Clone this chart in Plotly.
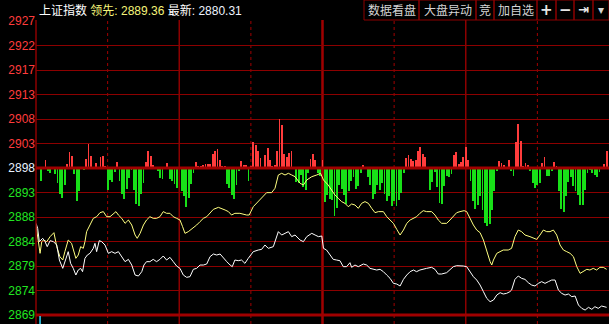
import plotly.graph_objects as go

# ---------------- data ----------------
PREV_CLOSE = 2898.2          # reference (yesterday close) level
GRID_STEP = 4.8              # price step between horizontal grid lines
LEAD_VALUE = "2889.36"
LAST_VALUE = "2880.31"

tick_labels = ["2869", "2874", "2879", "2884", "2888", "2893", "2898",
               "2903", "2908", "2913", "2917", "2922", "2927"]

# white line (index), x = minutes from open
white_min = [0, 0.7, 1.4, 2.8, 3.8, 4.7, 5.9, 7.3, 8.7, 9.8,
             11.2, 12.1, 13.5, 14.5, 15.6, 16.7, 17.7, 18.7, 19.5, 20.5,
             21.5, 22.6, 24.0, 24.7, 25.4, 26.5, 27.5, 28.9, 30.3, 31.7,
             33.1, 34.5, 35.9, 37.3, 38.7, 40.1, 41.5, 42.9, 44.3, 45.2,
             46.3, 47.7, 49.1, 50.5, 51.9, 53.3, 54.7, 56.1, 57.5, 58.9,
             60.3, 61.7, 63.1, 64.5, 65.9, 67.3, 68.7, 70.1, 71.5, 72.9,
             74.3, 75.7, 77.1, 78.5, 79.9, 81.3, 82.2, 83.3, 84.7, 86.1,
             87.5, 88.9, 91.0, 93.1, 94.5, 95.9, 97.3, 99.4, 101.5, 102.9,
             104.3, 105.7, 107.1, 108.5,
             110.6, 112.0, 113.4, 115.5, 116.9, 118.3, 119.7, 120.4, 121.7, 123.1,
             124.5, 125.9, 127.3, 128.7, 130.1, 131.5, 132.2, 133.6, 135.0, 137.1,
             138.5, 139.9, 141.3, 142.7, 144.1, 145.5, 146.9, 148.3, 149.7, 151.1,
             152.5, 153.9, 155.3, 156.7, 158.1, 159.4, 160.8, 162.2, 163.6, 165.7,
             167.1, 168.5, 169.9, 172.0, 173.4, 174.8, 176.2, 177.6, 179.0, 180.4,
             181.8, 183.2, 184.6, 186.0, 187.4, 188.8, 190.2, 191.6, 193.0, 194.4,
             195.7, 197.1, 198.5, 199.2, 200.6, 202.0, 203.4, 204.8, 206.2, 207.6,
             209.0, 210.4, 211.8, 213.2, 214.6, 216.0, 217.4, 218.8, 220.2, 221.6,
             223.0, 224.4, 225.8, 227.2, 228.6, 230.0, 231.4, 232.8, 234.1, 235.5,
             236.9, 238.3, 239.0]
white_val = [2887.36, 2886.38, 2883.77, 2884.42, 2883.77, 2882.79, 2883.96, 2883.77, 2883.11, 2880.17,
             2878.54, 2879.85, 2881.81, 2879.52, 2878.54, 2877.23, 2878.21, 2878.54, 2877.89, 2880.50,
             2881.15, 2881.48, 2882.46, 2883.44, 2881.81, 2883.96, 2883.77, 2883.11, 2881.48, 2881.81,
             2881.48, 2881.81, 2880.83, 2879.85, 2880.30, 2879.19, 2877.23, 2877.04, 2877.89, 2879.19,
             2879.85, 2879.85, 2880.30, 2879.85, 2880.30, 2880.96, 2880.17, 2880.70, 2879.85, 2879.00,
             2878.54, 2877.23, 2876.78, 2876.91, 2878.35, 2878.54, 2879.19, 2879.19, 2879.39, 2880.83,
             2881.35, 2881.15, 2881.35, 2880.70, 2879.85, 2879.19, 2878.87, 2880.17, 2880.04, 2880.17,
             2879.52, 2880.50, 2881.81, 2882.13, 2882.26, 2883.11, 2882.46, 2882.79, 2885.73, 2885.07,
             2885.40, 2885.73, 2884.75, 2885.07,
             2884.09, 2883.77, 2884.75, 2885.40, 2885.07, 2884.75, 2884.88, 2882.46, 2882.13, 2881.15,
             2880.30, 2880.17, 2880.04, 2878.87, 2878.87, 2879.65, 2878.74, 2879.19, 2878.87, 2879.39,
             2879.19, 2878.54, 2878.35, 2878.21, 2878.35, 2877.89, 2877.23, 2876.58, 2875.60, 2875.47,
             2875.08, 2876.38, 2877.23, 2877.89, 2878.21, 2877.89, 2878.21, 2878.41, 2878.54, 2878.74,
             2878.35, 2877.43, 2877.43, 2877.69, 2878.21, 2878.87, 2879.06, 2879.06, 2879.00, 2878.87,
             2877.89, 2876.91, 2876.25, 2875.27, 2873.97, 2872.66, 2872.01, 2872.33, 2873.31, 2873.77,
             2873.51, 2873.64, 2873.97, 2874.29, 2876.38, 2877.04, 2876.58, 2876.38, 2875.73, 2875.27,
             2875.08, 2875.60, 2875.93, 2875.60, 2875.93, 2876.25, 2876.25, 2874.29, 2873.64, 2873.31,
             2873.51, 2872.99, 2873.12, 2871.36, 2870.70, 2870.37, 2870.90, 2870.51, 2871.03, 2870.70,
             2871.16, 2871.03, 2870.90]

# yellow line (leading index)
yellow_min = [0, 1.7, 2.4, 3.1, 4.5, 5.9, 7.5, 8.7, 10.0, 11.2,
              12.1, 13.5, 14.9, 15.9, 16.7, 17.7, 18.7, 19.8, 20.5, 21.2,
              22.6, 24.0, 25.4, 26.8, 28.2, 29.6, 31.0, 32.4, 33.5, 34.5,
              35.9, 37.3, 38.7, 40.1, 41.5, 42.4, 43.6, 45.0, 46.3, 47.7,
              49.1, 50.5, 51.9, 53.3, 54.7, 56.1, 57.5, 58.9, 60.3, 61.4,
              62.4, 63.8, 65.2, 67.3, 68.7, 70.1, 71.5, 72.9, 74.3, 76.4,
              77.8, 79.2, 80.6, 81.9, 83.3, 85.4, 88.2, 89.3, 91.0, 93.1,
              95.2, 96.6, 98.7, 100.1, 101.5, 102.9, 104.3, 105.7, 107.1, 108.5,
              110.6, 112.0, 113.4, 115.5, 117.6, 119.2, 120.4, 122.4, 123.8, 125.2,
              126.6, 128.0, 129.4, 130.8, 132.2, 133.6, 135.0, 136.4, 137.8, 139.2,
              140.6, 142.0, 143.4, 145.5, 146.9, 148.3, 149.7, 151.1, 152.5, 153.9,
              155.3, 156.7, 158.1, 159.4, 160.8, 162.2, 163.6, 165.7, 167.1, 168.5,
              169.9, 172.0, 173.4, 174.8, 176.2, 177.6, 179.3, 180.4, 181.8, 183.2,
              184.6, 186.0, 187.4, 188.8, 190.2, 190.9, 191.6, 193.0, 194.4, 195.7,
              197.8, 199.2, 200.6, 202.0, 203.4, 204.8, 206.9, 208.3, 209.7, 211.1,
              212.5, 213.9, 215.3, 216.7, 218.1, 219.5, 220.9, 222.3, 223.7, 225.1,
              226.5, 227.9, 229.3, 230.7, 232.0, 233.4, 234.8, 236.2, 237.6, 239.0]
yellow_val = [2887.03, 2881.48, 2883.77, 2884.09, 2883.77, 2884.75, 2885.53, 2882.79, 2880.83, 2880.17,
              2881.81, 2884.09, 2883.44, 2881.81, 2880.50, 2881.15, 2882.79, 2882.46, 2883.77, 2885.73,
              2887.03, 2888.34, 2888.66, 2889.45, 2889.65, 2888.66, 2888.66, 2889.32, 2889.65, 2888.99,
              2888.34, 2887.36, 2888.01, 2887.03, 2885.07, 2884.42, 2885.40, 2887.03, 2888.01, 2888.66,
              2888.34, 2888.34, 2888.66, 2889.65, 2889.32, 2889.32, 2888.66, 2888.34, 2888.01, 2886.71,
              2885.40, 2885.73, 2886.18, 2887.03, 2887.69, 2888.34, 2888.66, 2889.45, 2890.10, 2890.49,
              2890.30, 2889.97, 2889.65, 2888.99, 2889.32, 2889.32, 2888.99, 2888.99, 2890.62, 2891.61,
              2892.58, 2893.37, 2893.37, 2894.22, 2896.83, 2897.16, 2896.83, 2897.16, 2896.83, 2896.50,
              2895.20, 2894.87, 2895.85, 2896.50, 2896.83, 2897.16, 2895.85, 2894.87, 2893.89, 2892.91,
              2892.26, 2891.61, 2891.28, 2890.62, 2891.15, 2890.95, 2890.30, 2891.28, 2891.61, 2891.28,
              2890.30, 2889.45, 2889.65, 2889.65, 2888.66, 2888.01, 2887.36, 2886.18, 2885.07, 2886.05,
              2887.36, 2888.01, 2888.34, 2888.66, 2889.32, 2889.84, 2889.65, 2889.65, 2888.99, 2888.01,
              2887.36, 2887.36, 2888.01, 2888.66, 2889.45, 2889.65, 2889.84, 2889.65, 2888.34, 2887.03,
              2886.05, 2885.53, 2884.09, 2881.81, 2879.85, 2879.19, 2880.17, 2881.48, 2881.81, 2882.13,
              2882.13, 2882.46, 2884.75, 2886.05, 2885.73, 2885.07, 2884.75, 2884.42, 2884.22, 2885.07,
              2886.05, 2885.73, 2885.73, 2886.05, 2885.07, 2883.11, 2882.13, 2881.81, 2881.48, 2880.83,
              2878.87, 2877.56, 2877.89, 2878.35, 2878.21, 2878.54, 2878.21, 2878.74, 2878.74, 2878.35]

# red/green strength bars, one per minute (0..239); positive = red, negative = green
strength = [0, 0, -13, 0, 8, -3, -5, 0, -6, -15,
            -26, -30, -17, 4, 16, 12, -6, -33, -23, 0,
            -2, 9, 24, 12, 0, 5, 0, 11, 12, 2,
            -22, -12, -14, -4, 6, -13, -26, -31, -21, -10,
            -2, -22, -36, -38, -26, -15, 6, 17, 12, 3,
            -1, -3, -10, -11, 0, 5, -11, -13, -16, -20,
            0, -23, -28, -39, -30, -16, -5, 6, 2, 2,
            3, 4, 4, 4, 14, 17, 19, 8, 2, 2,
            -16, -20, -27, -31, -17, -3, 7, 3, 3, -13,
            2, 26, 23, 17, 10, -1, 13, 20, 8, 2,
            3, 17, 49, 43, 14, 11, 15, 17, -1, -14,
            -15, -7, -19, -22, -5, 9, 14, 8, -5, -8,
            8, -34, -27, -31, -32, -48, -40, -17, -21, -27,
            -36, -23, -13, -9, -21, -18, -5, 3, -1, -9,
            -17, -31, -26, -17, -22, -15, -26, -33, -28, -38,
            -33, -38, -32, -25, -5, 10, 13, 9, 7, 8,
            17, 21, 14, 11, -1, -22, -14, -4, -19, -35,
            -36, -18, -8, -9, -6, 13, 16, 4, 6, 11,
            21, 8, -13, -33, -41, -37, -28, -42, -55, -58,
            -56, -42, -23, -3, 7, 5, 3, -1, 8, -3,
            -8, 26, 44, 27, 2, 5, 3, -3, -15, -20,
            -17, -15, 5, 11, -8, -8, -3, 6, 2, -23,
            -41, -44, -28, -14, -9, -18, -23, -27, -37, -37,
            -22, -5, -2, -5, -7, -9, -4, -1, 4, 17]
minutes = list(range(len(strength)))

vline_solid = [60, 180]
vline_main = [120]
vline_dotted = [30, 90, 150, 210]

buttons = ["数据看盘", "大盘异动", "竞", "加自选", "+", "−", "⇥", "▾"]
button_edges = [364, 419, 476, 494, 537, 556, 574, 593, 609]

# ---------------- layout geometry ----------------
W, H = 609, 324
ML, MT = 36, 20
PW, PH = W - ML, H - MT
PX_PER_PT = 24.5 / GRID_STEP
BASE_PX = 148  # baseline distance (px) below top of plot area

price_range = [PREV_CLOSE - (PH - BASE_PX) / PX_PER_PT, PREV_CLOSE + BASE_PX / PX_PER_PT]
strength_range = [-(PH - BASE_PX), BASE_PX]
tick_vals = [PREV_CLOSE + GRID_STEP * k for k in range(-6, 7)]

RED_TXT = "#ff3c3c"
GREEN_TXT = "#22e622"
GRID = "#8c0000"


def px_x(p):
    return (p - ML) / PW


def px_y(p):
    return (H - p) / PH


tick_text = []
for v, lab in zip(tick_vals, tick_labels):
    if abs(v - PREV_CLOSE) < 1e-6:
        tick_text.append(f'<span style="color:#e8f2ff">{lab}</span>')
    elif v > PREV_CLOSE:
        tick_text.append(f'<span style="color:{RED_TXT}">{lab}</span>')
    else:
        tick_text.append(lab)

bar_colors = ["#ff3c3c" if s > 0 else "#18e018" for s in strength]

fig = go.Figure()
fig.add_trace(go.Bar(x=minutes, y=strength, marker=dict(color=bar_colors, line=dict(width=0)),
                     width=0.36, yaxis="y", hoverinfo="skip"))
fig.add_trace(go.Scatter(x=yellow_min, y=yellow_val, mode="lines", yaxis="y2",
                         line=dict(color="#ffff80", width=1), hoverinfo="skip"))
fig.add_trace(go.Scatter(x=white_min, y=white_val, mode="lines", yaxis="y2",
                         line=dict(color="#ffffff", width=1), hoverinfo="skip"))

shapes = []
# left edge
shapes.append(dict(type="line", xref="paper", yref="paper", x0=0, x1=0, y0=0, y1=1,
                   line=dict(color=GRID, width=1.5), layer="above"))
for m in vline_solid:
    shapes.append(dict(type="line", xref="x", yref="paper", x0=m, x1=m, y0=0, y1=1,
                       line=dict(color=GRID, width=1.5), layer="below"))
for m in vline_main:
    shapes.append(dict(type="line", xref="x", yref="paper", x0=m, x1=m, y0=0, y1=1,
                       line=dict(color="#a00000", width=2.5), layer="below"))
for m in vline_dotted:
    shapes.append(dict(type="line", xref="x", yref="paper", x0=m, x1=m, y0=0, y1=1,
                       line=dict(color="#a00000", width=1, dash="dot"), layer="below"))
# thick baseline and bottom line
shapes.append(dict(type="line", xref="paper", yref="y2", x0=0, x1=1, y0=PREV_CLOSE, y1=PREV_CLOSE,
                   line=dict(color="#a00000", width=3), layer="above"))
shapes.append(dict(type="line", xref="paper", yref="y2", x0=0, x1=1, y0=tick_vals[0], y1=tick_vals[0],
                   line=dict(color="#a00000", width=3), layer="above"))
# small cyan volume tick bottom-left
shapes.append(dict(type="line", xref="x", yref="paper", x0=1.7, x1=1.7, y0=0, y1=px_y(316),
                   line=dict(color="#30d8ff", width=1.5), layer="above"))
# header button boxes
for a, b in zip(button_edges[:-1], button_edges[1:]):
    shapes.append(dict(type="rect", xref="paper", yref="paper", x0=px_x(a), x1=px_x(b),
                       y0=px_y(20), y1=px_y(0), line=dict(color=GRID, width=1), fillcolor="rgba(0,0,0,0)"))

annotations = []
annotations.append(dict(
    xref="paper", yref="paper", x=px_x(37), y=px_y(10.5), xanchor="left", yanchor="middle",
    showarrow=False,
    text=(f'上证指数 <span style="color:#f4f47a">领先: {LEAD_VALUE}</span> '
          f'最新: <span style="color:#eef4ff">{LAST_VALUE}</span>'),
    font=dict(family="Liberation Sans, Noto Sans CJK SC, sans-serif", size=12, color="#ffffff")))
for lab, a, b in zip(buttons, button_edges[:-1], button_edges[1:]):
    big = lab in ("+", "−")
    icon = lab in ("⇥",)
    annotations.append(dict(
        xref="paper", yref="paper", x=px_x((a + b) / 2), y=px_y(10), xanchor="center", yanchor="middle",
        showarrow=False, text=f"<b>{lab}</b>" if (big or icon) else lab,
        font=dict(family="DejaVu Sans, Noto Sans CJK SC, sans-serif" if (big or icon or lab == "▾")
                  else "Noto Sans CJK SC, sans-serif",
                  size=15 if big else (13 if icon else 12),
                  color="#e6e6e6" if (big or icon) else "#d4d4d4")))

fig.update_layout(
    width=W, height=H,
    margin=dict(l=ML, r=0, t=MT, b=0, pad=0),
    paper_bgcolor="#000000", plot_bgcolor="#000000",
    showlegend=False, bargap=0,
    xaxis=dict(range=[0, 240], visible=False, fixedrange=True),
    yaxis=dict(range=strength_range, visible=False, fixedrange=True),
    yaxis2=dict(overlaying="y", side="left", range=price_range, tickmode="array",
                tickvals=tick_vals, ticktext=tick_text, showgrid=True, gridcolor=GRID, gridwidth=1,
                zeroline=False, showline=False, ticks="", fixedrange=True,
                tickfont=dict(family="Liberation Sans, Arial, sans-serif", size=12, color=GREEN_TXT)),
    shapes=shapes, annotations=annotations,
)

fig.write_html("out.html", config={"displayModeBar": False})
